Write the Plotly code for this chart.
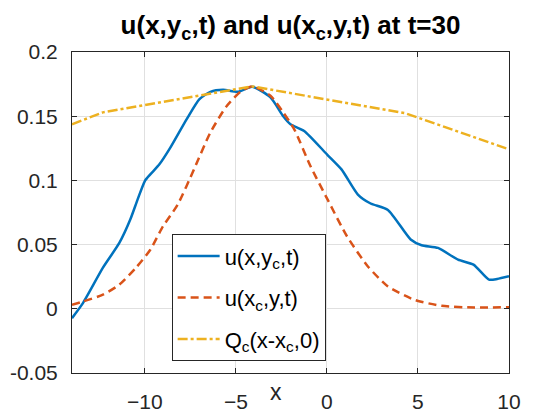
import plotly.graph_objects as go

# u(x, y_c, t) along the centre line
x_u = [-14, -13.4, -12.3, -11.4, -10.8, -10.4, -10.0, -9.7, -9.2, -8.6, -7.7, -7.0,
       -6.4, -5.7, -4.9, -4.1, -3.1, -2.4, -2.0, -1.25, 0.0, 0.8, 1.7, 2.4, 3.35,
       4.6, 5.2, 6.1, 7.2, 8.05, 8.9, 9.35, 10]
y_u = [-0.0073, 0.0044, 0.032, 0.0513, 0.0695, 0.085, 0.0995, 0.1047, 0.1125, 0.1255,
       0.1477, 0.1633, 0.169, 0.1706, 0.169, 0.1729, 0.1646, 0.150, 0.1437, 0.1385,
       0.1203, 0.1086, 0.089, 0.082, 0.077, 0.054, 0.0495, 0.0474, 0.0383, 0.0344,
       0.0227, 0.0232, 0.0253]

# u(x_c, y, t)
x_r = [-14, -13.4, -12.3, -11.4, -10.5, -9.7, -9.0, -8.2, -7.3, -6.4, -5.5, -4.75,
       -4.1, -3.1, -2.4, -1.8, -0.9, 0.04, 1.1, 2.25, 3.35, 4.8, 6.3, 8.1, 10]
y_r = [0.0031, 0.0057, 0.011, 0.0188, 0.0318, 0.046, 0.0643, 0.081, 0.1086, 0.1373,
       0.158, 0.169, 0.1732, 0.1659, 0.153, 0.14, 0.111, 0.085, 0.0565, 0.033, 0.0174,
       0.007, 0.0023, 0.001, 0.0013]

# Q_c(x - x_c, 0)
x_q = [-14, -12.3, -4.1, 4.3, 10]
y_q = [0.1437, 0.153, 0.1732, 0.1523, 0.1242]

x_ticks = [-10, -5, 0, 5, 10]
y_ticks = [-0.05, 0, 0.05, 0.1, 0.15, 0.2]
y_ticklabels = ["-0.05", "0", "0.05", "0.1", "0.15", "0.2"]

font = "Liberation Sans, Arial, sans-serif"

fig = go.Figure()
fig.add_trace(go.Scatter(x=x_u, y=y_u, mode="lines", name="u(x,y<sub>c</sub>,t)",
                         legendgroup="a",
                         line=dict(color="#0072BD", width=2.5, shape="spline", smoothing=0.6)))
fig.add_trace(go.Scatter(x=x_r, y=y_r, mode="lines", name="u(x<sub>c</sub>,y,t)",
                         legendgroup="b",
                         line=dict(color="#D95319", width=2.5, dash="8px,5px",
                                   shape="spline", smoothing=0.6)))
fig.add_trace(go.Scatter(x=x_q, y=y_q, mode="lines", name="Q<sub>c</sub>(x-x<sub>c</sub>,0)",
                         legendgroup="c",
                         line=dict(color="#EDB120", width=2.5, dash="10px,3px,3px,3px")))

# page body adds an 8px margin, so the figure is 8px smaller than the window
fig.update_layout(
    width=552, height=412,
    margin=dict(l=64, r=51, t=44, b=47, autoexpand=False),
    paper_bgcolor="white", plot_bgcolor="white",
    font=dict(family=font, size=21, color="#262626"),
    title=dict(text="<b>u(x,y<sub>c</sub>,t) and u(x<sub>c</sub>,y,t) at t=30</b>",
               xref="paper", x=0.5, xanchor="center", y=0.958, yanchor="middle",
               font=dict(size=26, color="black")),
    showlegend=True,
    legend=dict(x=0.228, y=0.037, xanchor="left", yanchor="bottom",
                bgcolor="white", bordercolor="#262626", borderwidth=1,
                font=dict(size=22, color="black"), tracegroupgap=10, itemwidth=42),
)
fig.update_xaxes(range=[-14, 10], tickvals=x_ticks, ticks="inside", ticklen=5,
                 tickcolor="#262626", showline=True, linecolor="#262626", linewidth=1,
                 mirror="ticks", showgrid=True, gridcolor="#e0e0e0", zeroline=False,
                 ticklabelstandoff=10, tickfont=dict(size=21), automargin=False)
fig.update_yaxes(range=[-0.05, 0.2], tickvals=y_ticks, ticktext=y_ticklabels,
                 ticks="inside", ticklen=5, tickcolor="#262626", showline=True,
                 linecolor="#262626", linewidth=1, mirror="ticks", showgrid=True,
                 gridcolor="#e0e0e0", zeroline=False, ticklabelstandoff=9,
                 tickfont=dict(size=21), automargin=False)
fig.add_annotation(text="x", x=-2.8, xref="x", y=-0.059, yref="paper",
                   showarrow=False, yanchor="middle", font=dict(size=23, color="#262626"))

fig.write_html("out.html")
